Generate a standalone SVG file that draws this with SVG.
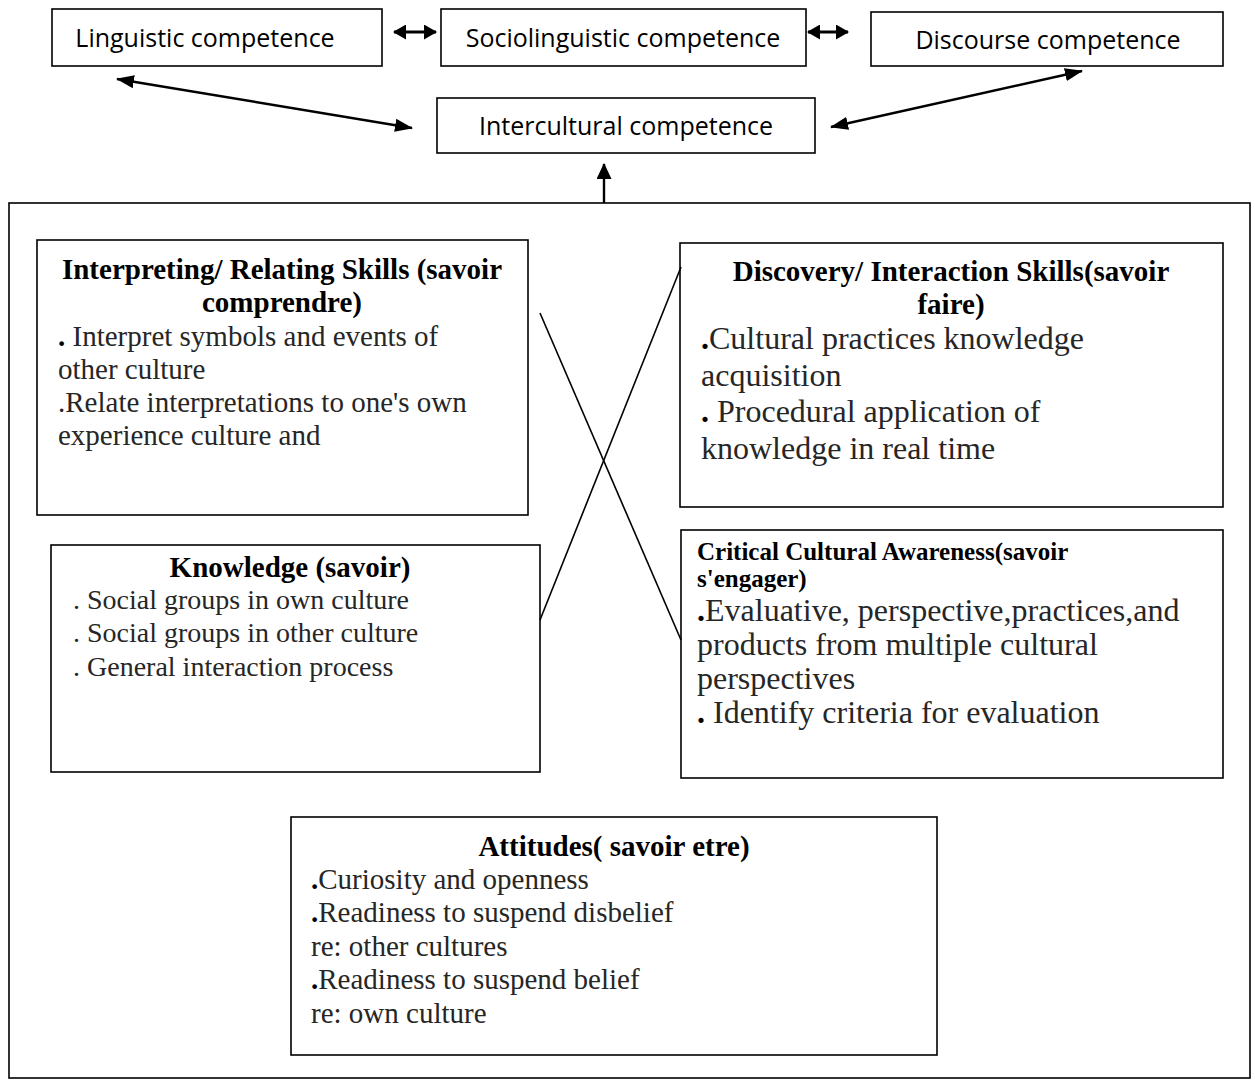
<svg xmlns="http://www.w3.org/2000/svg" width="1255" height="1088" viewBox="0 0 1255 1088">
<style>
.box{fill:#fff;stroke:#000;stroke-width:1.6}
.frame{fill:none;stroke:#000;stroke-width:1.6}
.sans{font-family:"Open Sans","Noto Sans",sans-serif;font-size:25px;fill:#000}
.ttl{font-family:"Liberation Serif","Times New Roman",serif;font-weight:bold;font-size:29px;fill:#000}
.body{font-family:"Liberation Serif","Times New Roman",serif;font-size:29px;fill:#262626}
.big{font-size:32px}
.b{font-weight:bold;fill:#000}
.arr{stroke:#000;stroke-width:2.4;fill:none}
.harr{stroke:#000;stroke-width:3;fill:none}
.thin{stroke:#000;stroke-width:1.6;fill:none}
</style>
<defs>
<marker id="ah" viewBox="0 0 18 13" refX="17" refY="6.5" markerWidth="18" markerHeight="13" markerUnits="userSpaceOnUse" orient="auto-start-reverse">
<path d="M0,0 L18,6.5 L0,13 Z" fill="#000"/>
</marker>
<marker id="hh" viewBox="0 0 13 15" refX="12" refY="7.5" markerWidth="13" markerHeight="15" markerUnits="userSpaceOnUse" orient="auto-start-reverse">
<path d="M0,0 L13,7.5 L0,15 Z" fill="#000"/>
</marker>
<marker id="uh" viewBox="0 0 16 15" refX="15" refY="7.5" markerWidth="16" markerHeight="15" markerUnits="userSpaceOnUse" orient="auto">
<path d="M0,0 L16,7.5 L0,15 Z" fill="#000"/>
</marker>
</defs>
<rect class="frame" x="9" y="203" width="1241" height="875"/>
<g id="linguistic">
<rect class="box" x="52" y="9" width="330" height="57"/>
<text class="sans" x="205" y="47" text-anchor="middle">Linguistic competence</text>
</g>
<g id="sociolinguistic">
<rect class="box" x="441" y="9" width="365" height="57"/>
<text class="sans" x="623" y="47" text-anchor="middle">Sociolinguistic competence</text>
</g>
<g id="discourse">
<rect class="box" x="871" y="12" width="352" height="54"/>
<text class="sans" x="1048" y="49" text-anchor="middle">Discourse competence</text>
</g>
<g id="intercultural">
<rect class="box" x="437" y="98" width="378" height="55"/>
<text class="sans" x="626" y="135" text-anchor="middle">Intercultural competence</text>
</g>
<g id="interpreting">
<rect class="box" x="37" y="240" width="491" height="275"/>
<text class="ttl" x="282" y="279" text-anchor="middle">Interpreting/ Relating Skills (savoir</text>
<text class="ttl" x="282" y="312" text-anchor="middle">comprendre)</text>
<text class="body" x="58" y="346"><tspan class="b">.</tspan> Interpret symbols and events of</text>
<text class="body" x="58" y="379">other culture</text>
<text class="body" x="58" y="412">.Relate interpretations to one's own</text>
<text class="body" x="58" y="445">experience culture and</text>
</g>
<g id="discovery">
<rect class="box" x="680" y="243" width="543" height="264"/>
<text class="ttl" x="951" y="281" text-anchor="middle">Discovery/ Interaction Skills(savoir</text>
<text class="ttl" x="951" y="314" text-anchor="middle">faire)</text>
<text class="body big" x="701" y="349"><tspan class="b">.</tspan>Cultural practices knowledge</text>
<text class="body big" x="701" y="386">acquisition</text>
<text class="body big" x="701" y="422"><tspan class="b">.</tspan> Procedural application of</text>
<text class="body big" x="701" y="459">knowledge in real time</text>
</g>
<g id="knowledge">
<rect class="box" x="51" y="545" width="489" height="227"/>
<text class="ttl" x="290" y="577" text-anchor="middle">Knowledge (savoir)</text>
<text class="body" x="73" y="609" style="font-size:28px">. Social groups in own culture</text>
<text class="body" x="73" y="642" style="font-size:28px">. Social groups in other culture</text>
<text class="body" x="73" y="676" style="font-size:28px">. General interaction process</text>
</g>
<g id="critical">
<rect class="box" x="681" y="530" width="542" height="248"/>
<text class="ttl" x="697" y="560" style="font-size:25px">Critical Cultural Awareness(savoir</text>
<text class="ttl" x="697" y="587" style="font-size:25px">s'engager)</text>
<text class="body big" x="697" y="621"><tspan class="b">.</tspan>Evaluative, perspective,practices,and</text>
<text class="body big" x="697" y="655">products from multiple cultural</text>
<text class="body big" x="697" y="689">perspectives</text>
<text class="body big" x="697" y="723"><tspan class="b">.</tspan> Identify criteria for evaluation</text>
</g>
<g id="attitudes">
<rect class="box" x="291" y="817" width="646" height="238"/>
<text class="ttl" x="614" y="856" text-anchor="middle">Attitudes( savoir etre)</text>
<text class="body" x="311" y="889"><tspan class="b">.</tspan>Curiosity and openness</text>
<text class="body" x="311" y="922"><tspan class="b">.</tspan>Readiness to suspend disbelief</text>
<text class="body" x="311" y="956">re: other cultures</text>
<text class="body" x="311" y="989"><tspan class="b">.</tspan>Readiness to suspend belief</text>
<text class="body" x="311" y="1023">re: own culture</text>
</g>
<g id="connectors">
<line class="harr" x1="394" y1="32" x2="436" y2="32" marker-start="url(#hh)" marker-end="url(#hh)"/>
<line class="harr" x1="808" y1="32" x2="848" y2="32" marker-start="url(#hh)" marker-end="url(#hh)"/>
<line class="arr" x1="117" y1="79" x2="412" y2="128" marker-start="url(#ah)" marker-end="url(#ah)"/>
<line class="arr" x1="831" y1="127" x2="1082" y2="71" marker-start="url(#ah)" marker-end="url(#ah)"/>
<line class="arr" x1="604" y1="203" x2="604" y2="164" marker-end="url(#uh)"/>
<line class="thin" x1="540" y1="313" x2="681" y2="640"/>
<line class="thin" x1="681" y1="267" x2="540" y2="620"/>
</g>
</svg>
